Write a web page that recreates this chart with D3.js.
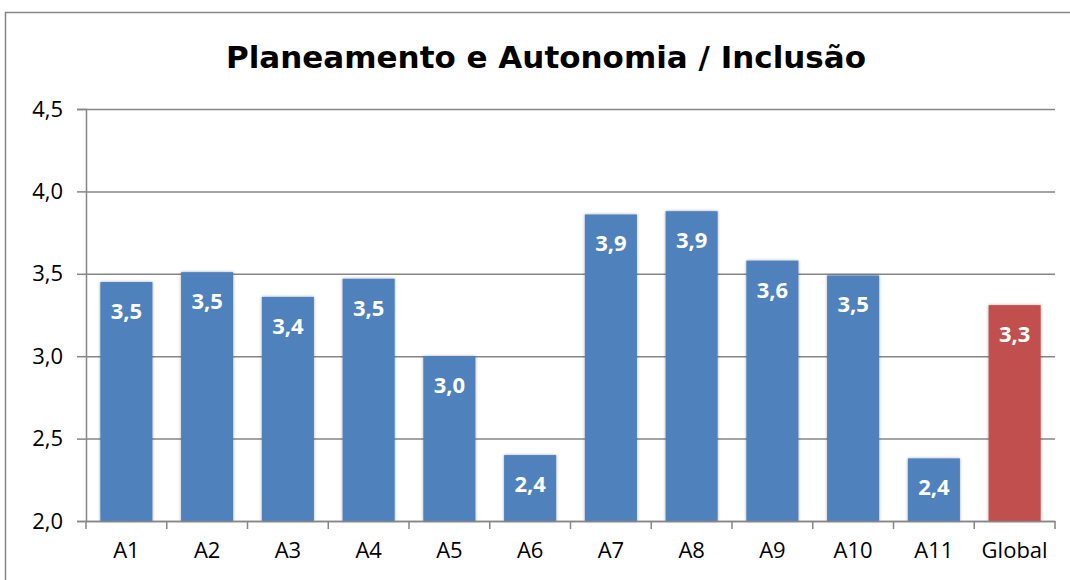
<!DOCTYPE html>
<html>
<head>
<meta charset="utf-8">
<script src="https://cdn.jsdelivr.net/npm/d3@7"></script>
<style>
  body { margin: 0; background: #fff; }
  #chart { width: 1070px; height: 580px; }
  .tick text { font-family: "Open Sans", "Noto Sans", sans-serif; font-size: 22px; fill: #000; }
  .title { font-family: "DejaVu Sans", sans-serif; font-weight: bold; font-size: 31px; fill: #000; }
  .bar-label { font-family: "Open Sans", sans-serif; font-weight: bold; font-size: 22px; fill: #fff; }
</style>
</head>
<body>
<div id="chart"></div>
<script>
const categories = ["A1", "A2", "A3", "A4", "A5", "A6", "A7", "A8", "A9", "A10", "A11", "Global"]
const values = [3.45, 3.51, 3.36, 3.47, 3.0, 2.4, 3.86, 3.88, 3.58, 3.49, 2.38, 3.31]
const yTicks = [2.0, 2.5, 3.0, 3.5, 4.0, 4.5]
const colors = { normal: "#4F81BD", global: "#C0504D" }

const datas = categories.map((c, i) => ({ cat: c, value: values[i] }))
const fmt = (v) => d3.format(".1f")(v).replace(".", ",")

const area = document.querySelector("#chart")
const svg = d3.select(area).append("svg")
  .attr("width", 1070)
  .attr("height", 580)

// frame
svg.append("rect")
  .attr("x", 5.5).attr("y", 12.5)
  .attr("width", 1080).attr("height", 600)
  .attr("fill", "none")
  .attr("stroke", "#868686")
  .attr("stroke-width", 1.5)

const margin = { left: 86, top: 109, right: 1055, bottom: 521 }

const xScale = d3.scaleBand()
  .range([margin.left, margin.right])
  .domain(categories)
  .paddingInner(0.355)
  .paddingOuter(0.1775)

const yScale = d3.scaleLinear()
  .range([margin.bottom, margin.top])
  .domain([2.0, 4.5])

//grid
svg.append("g")
  .attr("transform", `translate(${margin.left},0)`)
  .call(d3.axisLeft(yScale).tickValues(yTicks).tickSize(-(margin.right - margin.left)).tickFormat(""))
  .call(g => g.select(".domain").remove())
  .call(g => g.selectAll("line").attr("stroke", "#868686").attr("stroke-width", 1.5))

// shadow
const defs = svg.append("defs")
const f = defs.append("filter").attr("id", "shadow").attr("x", "-20%").attr("y", "-10%").attr("width", "140%").attr("height", "120%")
f.append("feDropShadow").attr("dx", 0).attr("dy", 0).attr("stdDeviation", 1.6)
  .attr("flood-color", "#000").attr("flood-opacity", 0.35)

svg.selectAll(".bar")
  .data(datas)
  .enter()
  .append("rect")
  .attr("class", "bar")
  .attr("x", d => xScale(d.cat))
  .attr("y", d => yScale(d.value))
  .attr("width", xScale.bandwidth())
  .attr("height", d => margin.bottom - yScale(d.value))
  .attr("fill", d => d.cat === "Global" ? colors.global : colors.normal)
  .attr("filter", "url(#shadow)")

// y axis
const yAxis = svg.append("g")
  .attr("transform", `translate(${margin.left},0)`)
  .call(d3.axisLeft(yScale).tickValues(yTicks).tickSize(9).tickPadding(14).tickFormat(fmt))
yAxis.selectAll("line").attr("stroke", "#868686").attr("stroke-width", 1.5)
yAxis.select(".domain").attr("stroke", "#868686").attr("stroke-width", 1.5)

// x axis
const xTickPos = categories.map(c => xScale(c) - xScale.step() * xScale.paddingInner() / 2)
xTickPos.push(margin.right)
const xAxis = svg.append("g")
  .attr("transform", `translate(0,${margin.bottom})`)
  .call(d3.axisBottom(xScale).tickSize(0).tickPadding(21))
xAxis.select(".domain").attr("stroke", "#868686").attr("stroke-width", 1.5)
xAxis.selectAll(".xt")
  .data(xTickPos)
  .enter()
  .append("line")
  .attr("class", "xt")
  .attr("x1", d => d).attr("x2", d => d)
  .attr("y1", 0).attr("y2", 8)
  .attr("stroke", "#868686").attr("stroke-width", 1.5)

// value labels
svg.selectAll(".bar-label")
  .data(datas)
  .enter()
  .append("text")
  .attr("class", "bar-label")
  .attr("x", d => xScale(d.cat) + xScale.bandwidth() / 2)
  .attr("y", d => yScale(d.value) + 37)
  .attr("text-anchor", "middle")
  .text(d => fmt(d.value))

//Title
svg.append("text")
  .attr("class", "title")
  .attr("x", 546)
  .attr("y", 68)
  .attr("text-anchor", "middle")
  .text("Planeamento e Autonomia / Inclusão")
</script>
</body>
</html>
